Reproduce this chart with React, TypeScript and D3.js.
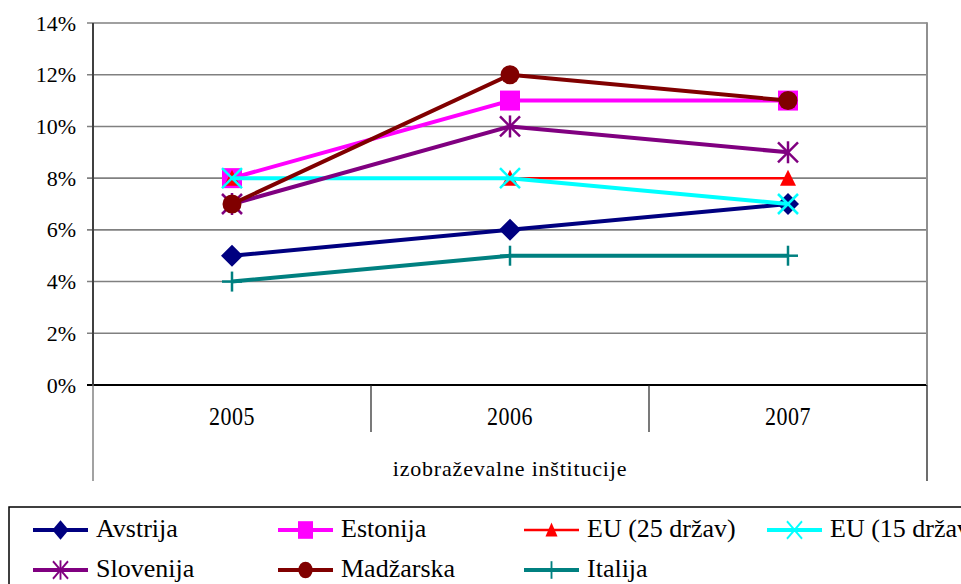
import React from 'react';
import * as d3 from 'd3';

// ---------- data ----------
const years = ['2005', '2006', '2007'];
const seriesNames = ['Avstrija', 'Estonija', 'EU (25 držav)', 'EU (15 držav)', 'Slovenija', 'Madžarska', 'Italija'];
const avstrija = [0.05, 0.06, 0.07];
const estonija = [0.08, 0.11, 0.11];
const eu25 = [0.08, 0.08, 0.08];
const eu15 = [0.08, 0.08, 0.07];
const slovenija = [0.07, 0.10, 0.09];
const madzarska = [0.07, 0.12, 0.11];
const italija = [0.04, 0.05, 0.05];
const yTicks = [0, 0.02, 0.04, 0.06, 0.08, 0.10, 0.12, 0.14];
const axisTitle = 'izobraževalne inštitucije';

const seriesValues = [avstrija, estonija, eu25, eu15, slovenija, madzarska, italija];

// ---------- styles ----------
type Sym = 'diamond' | 'square' | 'triangle' | 'x' | 'asterisk' | 'circle' | 'plus';
const styles: { color: string; width: number; sym: Sym }[] = [
  { color: '#000080', width: 4, sym: 'diamond' },
  { color: '#FF00FF', width: 4, sym: 'square' },
  { color: '#FF0000', width: 2.5, sym: 'triangle' },
  { color: '#00FFFF', width: 4, sym: 'x' },
  { color: '#800080', width: 4, sym: 'asterisk' },
  { color: '#800000', width: 4, sym: 'circle' },
  { color: '#008080', width: 4, sym: 'plus' },
];

const FONT = '"Liberation Serif", "Times New Roman", serif';

const left = 93, right = 927, top = 23, bottom = 385;

function Marker({ sym, color, x, y, sx = 1, sy = 1 }: { sym: Sym; color: string; x: number; y: number; sx?: number; sy?: number }) {
  const t = `translate(${x},${y}) scale(${sx},${sy})`;
  const sw = 2.5;
  switch (sym) {
    case 'diamond':
      return <path transform={t} d="M0,-11L11,0L0,11L-11,0Z" fill={color} />;
    case 'square':
      return <rect transform={t} x={-10} y={-10} width={20} height={20} fill={color} />;
    case 'triangle':
      return <path transform={t} d="M0,-8.5L8,7.5L-8,7.5Z" fill={color} />;
    case 'x':
      return (
        <g transform={t} stroke={color} strokeWidth={sw}>
          <line x1={-10} y1={-10} x2={10} y2={10} />
          <line x1={-10} y1={10} x2={10} y2={-10} />
        </g>
      );
    case 'asterisk':
      return (
        <g transform={t} stroke={color} strokeWidth={sw}>
          <line x1={-10} y1={-10} x2={10} y2={10} />
          <line x1={-10} y1={10} x2={10} y2={-10} />
          <line x1={0} y1={-11} x2={0} y2={11} />
        </g>
      );
    case 'circle':
      return <circle transform={t} r={9.5} fill={color} />;
    case 'plus':
      return (
        <g transform={t} stroke={color} strokeWidth={sw}>
          <line x1={0} y1={-10} x2={0} y2={10} />
          <line x1={-10} y1={0} x2={10} y2={0} />
        </g>
      );
  }
  return null;
}

export default function App() {
  const x = d3.scaleBand<string>().domain(years).range([left, right]);
  const y = d3.scaleLinear().domain([0, 0.14]).range([bottom, top]);
  const cx = (yr: string) => (x(yr) as number) + x.bandwidth() / 2;
  const line = d3
    .line<number>()
    .x((_, i) => cx(years[i]))
    .y((d) => y(d));

  const legendCols = [33, 278, 524, 767];
  const legendRows = [530, 570];

  return (
    <svg width={961} height={584} style={{ position: 'absolute', left: 0, top: 0, background: '#fff' }} fontFamily={FONT}>
      <rect x={0} y={0} width={961} height={584} fill="#fff" />
      {/* gridlines */}
      {yTicks.map((t) => (
        <line key={t} x1={left - 6} x2={right} y1={y(t)} y2={y(t)} stroke={t === 0 ? '#000' : '#808080'} strokeWidth={t === 0 ? 2 : 1.6} />
      ))}
      {/* right border */}
      <line x1={right} x2={right} y1={top - 0.8} y2={bottom} stroke="#909090" strokeWidth={2} />
      {/* left axis */}
      <line x1={left} x2={left} y1={top} y2={bottom} stroke="#404040" strokeWidth={2} />
      {/* category box */}
      <line x1={left} x2={left} y1={bottom} y2={481} stroke="#707070" strokeWidth={1.3} />
      <line x1={right} x2={right} y1={bottom} y2={481} stroke="#202020" strokeWidth={1.3} />
      {years.slice(1).map((yr) => (
        <line key={yr} x1={x(yr) as number} x2={x(yr) as number} y1={bottom} y2={432} stroke="#202020" strokeWidth={1.2} />
      ))}
      {/* y tick labels */}
      {yTicks.map((t) => (
        <text key={t} x={76} y={y(t) + 7.5} textAnchor="end" fontSize={22} fill="#000">
          {`${Math.round(t * 100)}%`}
        </text>
      ))}
      {/* year labels */}
      {years.map((yr) => (
        <text key={yr} transform={`translate(${cx(yr)},425) scale(1,1.15)`} textAnchor="middle" fontSize={22} letterSpacing={0.5} fill="#000">
          {yr}
        </text>
      ))}
      <text x={(left + right) / 2} y={476} textAnchor="middle" fontSize={22} letterSpacing={0.8} fill="#000">
        {axisTitle}
      </text>
      {/* series */}
      {seriesValues.map((vals, si) => (
        <g key={si}>
          <path d={line(vals) as string} fill="none" stroke={styles[si].color} strokeWidth={styles[si].width} strokeLinejoin="round" />
          {vals.map((v, i) => (
            <Marker key={i} sym={styles[si].sym} color={styles[si].color} x={cx(years[i])} y={y(v)} />
          ))}
        </g>
      ))}
      {/* legend */}
      <rect x={9} y={507} width={980} height={100} fill="none" stroke="#000" strokeWidth={1.5} />
      {seriesNames.map((name, i) => {
        const col = i < 4 ? i : i - 4;
        const row = i < 4 ? 0 : 1;
        const lx = legendCols[col];
        const ly = legendRows[row];
        return (
          <g key={name}>
            <line x1={lx} x2={lx + 55} y1={ly} y2={ly} stroke={styles[i].color} strokeWidth={styles[i].width} />
            <Marker sym={styles[i].sym} color={styles[i].color} x={lx + 27.5} y={ly} sx={0.75} sy={0.88} />
            <text x={lx + 63} y={ly + 7} fontSize={26} fill="#000">
              {name}
            </text>
          </g>
        );
      })}
    </svg>
  );
}
